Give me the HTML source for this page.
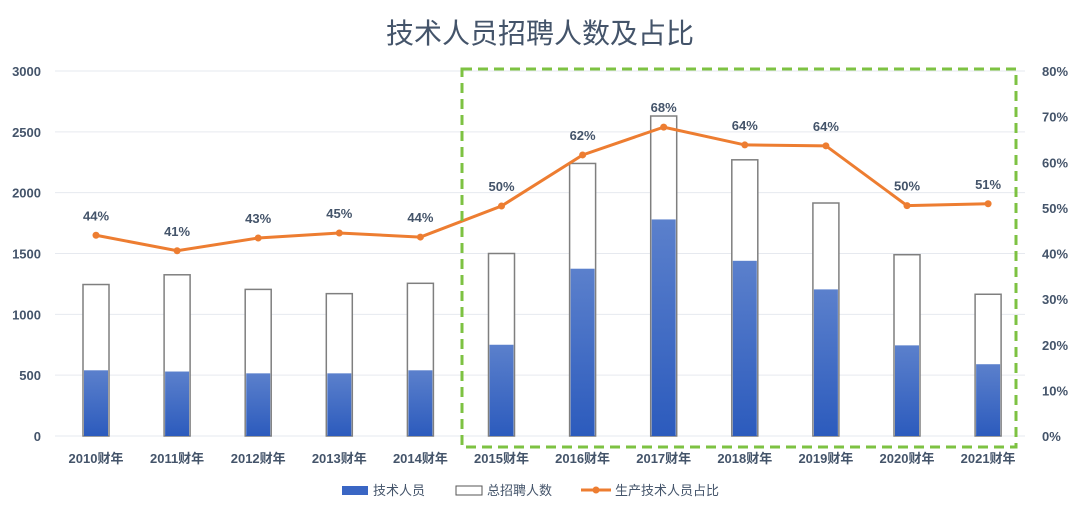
<!DOCTYPE html>
<html><head><meta charset="utf-8"><style>
body{margin:0;background:#fff;width:1080px;height:513px;overflow:hidden}
svg text{font-family:"Liberation Sans","Noto Sans CJK SC",sans-serif}
</style></head><body>
<svg id="chart" width="1080" height="513">
<defs><linearGradient id="g" x1="0" y1="0" x2="0" y2="1"><stop offset="0" stop-color="#5b80cc"/><stop offset="1" stop-color="#2c5bbd"/></linearGradient></defs>
<text x="540" y="43" text-anchor="middle" font-size="28" fill="#44546a">技术人员招聘人数及占比</text>
</svg>
<script>
const categories=["2010财年","2011财年","2012财年","2013财年","2014财年","2015财年","2016财年","2017财年","2018财年","2019财年","2020财年","2021财年"];
const totalHires=[1245,1325,1205,1170,1255,1500,2240,2630,2270,1915,1490,1165];
const techStaff=[540,530,515,515,540,750,1375,1780,1440,1205,745,590];
const techRatio=[44,40.6,43.4,44.5,43.6,50.4,61.6,67.7,63.8,63.6,50.5,50.9];
const ratioLabels=["44%","41%","43%","45%","44%","50%","62%","68%","64%","64%","50%","51%"];
const leftTicks=[0,500,1000,1500,2000,2500,3000];
const rightTicks=[0,10,20,30,40,50,60,70,80];
const svg=document.getElementById('chart');const NS='http://www.w3.org/2000/svg';
const y0=436,yTop=71,x0=55,x1=1025;
const yL=v=>y0-(v/3000)*(y0-yTop);
const yR=v=>y0-(v/80)*(y0-yTop);
const xC=i=>96+i*81.1;
function mk(t,a,p){const e=document.createElementNS(NS,t);for(const k in a)e.setAttribute(k,a[k]);(p||svg).appendChild(e);return e;}
leftTicks.forEach(v=>{
const l=mk('line',{x1:x0,x2:x1,y1:yL(v),y2:yL(v),stroke:'#e6e9ef','stroke-width':1});


const t=mk('text',{x:41,y:yL(v)+5,'text-anchor':'end','font-size':13,'font-weight':'bold',fill:'#44546a'});t.textContent=v;


});
rightTicks.forEach(v=>{
const t=mk('text',{x:1042,y:yR(v)+5,'font-size':13,'font-weight':'bold',fill:'#44546a'});t.textContent=v+'%';


});
categories.forEach((c,i)=>{
const x=xC(i);
const tb=mk('rect',{x:x-13,y:yL(totalHires[i]),width:26,height:y0-yL(totalHires[i]),fill:'#fff',stroke:'#7f7f7f','stroke-width':1.5});


const b=mk('rect',{x:x-12,y:yL(techStaff[i]),width:24,height:y0-yL(techStaff[i]),fill:'url(#g)'});


const t=mk('text',{x:x,y:463,'text-anchor':'middle','font-size':13,'font-weight':'bold',fill:'#44546a'});t.textContent=c;


});
const pts=techRatio.map((v,i)=>xC(i)+','+yR(v)).join(' ');
const pl=mk('polyline',{points:pts,fill:'none',stroke:'#ed7d31','stroke-width':3});


techRatio.forEach((v,i)=>{
const c=mk('circle',{cx:xC(i),cy:yR(v),r:3.5,fill:'#ed7d31'});


const t=mk('text',{x:xC(i),y:yR(v)-15,'text-anchor':'middle','font-size':13,'font-weight':'bold',fill:'#44546a'});t.textContent=ratioLabels[i];


});
const box=mk('rect',{x:462,y:69,width:554,height:378,fill:'none',stroke:'#7dc242','stroke-width':3,'stroke-dasharray':'10,6'});


// legend
const l1=mk('rect',{x:342,y:486,width:26,height:9,fill:'#3a66c4'});


const lt1=mk('text',{x:373,y:495,'font-size':13,fill:'#44546a'});lt1.textContent='技术人员';


const l2=mk('rect',{x:456,y:486,width:26,height:9,fill:'#fff',stroke:'#555'});


const lt2=mk('text',{x:487,y:495,'font-size':13,fill:'#44546a'});lt2.textContent='总招聘人数';


const l3=mk('line',{x1:581,x2:611,y1:490,y2:490,stroke:'#ed7d31','stroke-width':3});


const l3c=mk('circle',{cx:596,cy:490,r:3.5,fill:'#ed7d31'});


const lt3=mk('text',{x:615,y:495,'font-size':13,fill:'#44546a'});lt3.textContent='生产技术人员占比';


</script>
</body></html>
